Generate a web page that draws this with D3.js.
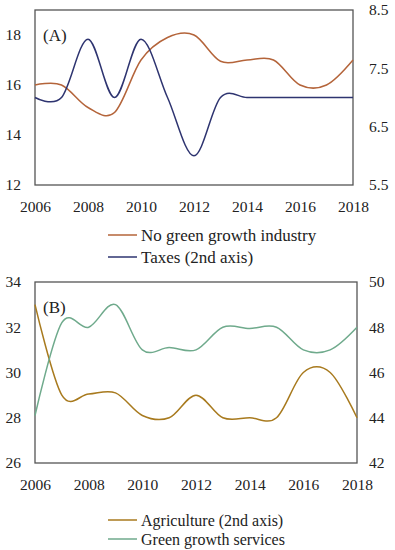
<!DOCTYPE html>
<html><head><meta charset="utf-8">
<script src="https://cdn.jsdelivr.net/npm/d3@7"></script>
<style>body{margin:0;background:#fff}svg{display:block}</style>
</head><body>
<script>
const years = [2006,2007,2008,2009,2010,2011,2012,2013,2014,2015,2016,2017,2018];
// Panel A
const noGreenIndustry = [16.0,16.0,15.1,14.9,17.0,17.9,18.0,16.95,17.0,17.0,16.0,16.0,17.0];
const taxes = [7.0,7.0,8.0,7.0,8.0,7.0,6.0,7.0,7.0,7.0,7.0,7.0,7.0];
// Panel B
const agriculture = [49.0,45.0,45.05,45.1,44.1,44.0,45.0,44.0,44.0,44.0,46.0,46.0,44.0];
const greenServices = [28.1,32.2,32.0,33.0,31.0,31.1,31.0,32.0,31.95,32.0,31.0,31.0,32.0];

const xTicks = [2006,2008,2010,2012,2014,2016,2018];
const leftTicksA = [12,14,16,18], rightTicksA = [5.5,6.5,7.5,8.5];
const leftTicksB = [26,28,30,32,34], rightTicksB = [42,44,46,48,50];

const W=395,H=550;
const svg=d3.select("body").append("svg").attr("width",W).attr("height",H);
const FONT="'Liberation Serif', serif";
const curve=d3.curveCardinal.tension(0);

function panel(cfg){
  const g=svg.append("g");
  const x=d3.scaleLinear().domain([2006,2018]).range([cfg.x0,cfg.x1]);
  const yL=d3.scaleLinear().domain(cfg.lDom).range([cfg.yb,cfg.yt]);
  const yR=d3.scaleLinear().domain(cfg.rDom).range([cfg.yb,cfg.yt]);
  g.append("rect").attr("x",cfg.x0).attr("y",cfg.yt).attr("width",cfg.x1-cfg.x0).attr("height",cfg.yb-cfg.yt)
    .attr("fill","none").attr("stroke","#555").attr("stroke-width",1.3);
  const la=g.append("g").attr("transform",`translate(${cfg.x0},0)`)
    .call(d3.axisLeft(yL).tickValues(cfg.lTicks).tickSize(0).tickPadding(14).tickFormat(d3.format("d")));
  const ra=g.append("g").attr("transform",`translate(${cfg.x1},0)`)
    .call(d3.axisRight(yR).tickValues(cfg.rTicks).tickSize(0).tickPadding(cfg.rPad).tickFormat(cfg.rFmt));
  const xa=g.append("g").attr("transform",`translate(0,${cfg.yb})`)
    .call(d3.axisBottom(x).tickValues(xTicks).tickSize(0).tickPadding(16).tickFormat(d3.format("d")));
  [la,ra,xa].forEach(a=>{a.select(".domain").remove();
    a.selectAll("text").attr("font-family",FONT).attr("font-size",15.5).attr("fill","#222");});
  cfg.series.forEach(s=>{
    const ys=s.axis==="L"?yL:yR;
    g.append("path").datum(s.values).attr("fill","none").attr("stroke",s.color).attr("stroke-width",1.5)
      .attr("d",d3.line().x((d,i)=>x(years[i])).y(d=>ys(d)).curve(curve));
  });
  g.append("text").attr("x",cfg.x0+8).attr("y",cfg.yt+31).text(cfg.label)
    .attr("font-family",FONT).attr("font-size",17).attr("fill","#222");
  cfg.legend.forEach((s,i)=>{
    const ly=cfg.legY[i];
    g.append("line").attr("x1",108).attr("x2",137).attr("y1",ly).attr("y2",ly).attr("stroke",s.color).attr("stroke-width",1.5);
    g.append("text").attr("x",141).attr("y",ly).attr("dy","0.35em").text(s.name)
      .attr("font-family",FONT).attr("font-size",cfg.legFont).attr("fill","#222");
  });
}
const cBrown="#B4643A", cNavy="#2E3470", cGold="#A87A1E", cGreen="#6FAA8C";
panel({x0:35,x1:353,yt:10,yb:185,lDom:[12,19],rDom:[5.5,8.5],lTicks:leftTicksA,rTicks:rightTicksA,
  rPad:16,rFmt:d3.format(".1f"),label:"(A)",legFont:17,
  series:[{values:noGreenIndustry,color:cBrown,axis:"L"},{values:taxes,color:cNavy,axis:"R"}],
  legend:[{name:"No green growth industry",color:cBrown},{name:"Taxes (2nd axis)",color:cNavy}],legY:[235,257]});
panel({x0:35,x1:357,yt:282,yb:463,lDom:[26,34],rDom:[42,50],lTicks:leftTicksB,rTicks:rightTicksB,
  rPad:12,rFmt:d3.format("d"),label:"(B)",legFont:16,
  series:[{values:agriculture,color:cGold,axis:"R"},{values:greenServices,color:cGreen,axis:"L"}],
  legend:[{name:"Agriculture (2nd axis)",color:cGold},{name:"Green growth services",color:cGreen}],legY:[520,539]});
</script>
</body></html>
